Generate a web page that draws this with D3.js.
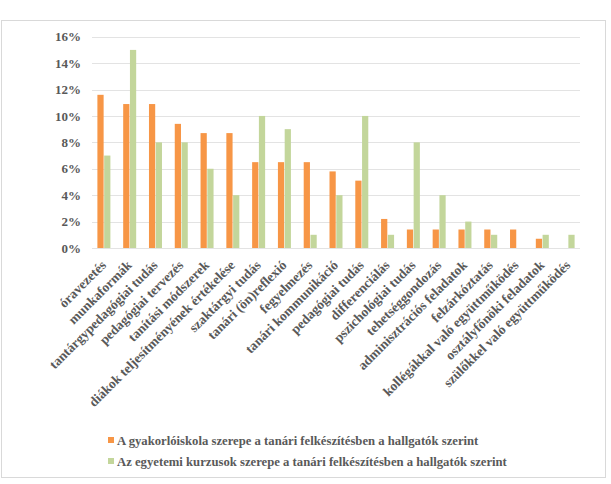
<!DOCTYPE html>
<html>
<head>
<meta charset="utf-8">
<script src="https://cdn.jsdelivr.net/npm/d3@7"></script>
<style>
  body { margin: 0; background: #fff; }
  svg { display: block; }
  text { font-family: "Liberation Serif", "Times New Roman", serif; font-weight: bold; fill: #595959; }
</style>
</head>
<body>
<svg id="chart" width="611" height="484"></svg>
<script>
const categories = [
  "óravezetés", "munkaformák", "tantárgypedagógiai tudás", "pedagógiai tervezés",
  "tanítási módszerek", "diákok teljesítményének értékelése", "szaktárgyi tudás",
  "tanári (ön)reflexió", "fegyelmezés", "tanári kommunikáció", "pedagógiai tudás",
  "differenciálás", "pszichológiai tudás", "tehetséggondozás", "adminisztrációs feladatok",
  "felzárkóztatás", "kollégákkal való együttműködés", "osztályfőnöki feladatok",
  "szülőkkel való együttműködés"
];
const seriesNames = [
  "A gyakorlóiskola szerepe a tanári felkészítésben a hallgatók szerint",
  "Az egyetemi kurzusok szerepe a tanári felkészítésben a hallgatók szerint"
];
// values in percent
const gyakorloValues = [11.6, 10.9, 10.9, 9.4, 8.7, 8.7, 6.5, 6.5, 6.5, 5.8, 5.1, 2.2, 1.4, 1.4, 1.4, 1.4, 1.4, 0.7, 0];
const egyetemiValues = [7, 15, 8, 8, 6, 4, 10, 9, 1, 4, 10, 1, 8, 4, 2, 1, 0, 1, 1];
const yTicks = [0, 2, 4, 6, 8, 10, 12, 14, 16];
const colors = ["#F79646", "#C3D69B"];

const svg = d3.select("#chart");

// outer chart border
svg.append("rect")
  .attr("x", 1.5).attr("y", 20.5).attr("width", 604).attr("height", 457)
  .attr("fill", "none").attr("stroke", "#d9d9d9").attr("stroke-width", 1);

const y = d3.scaleLinear().domain([0, 16]).range([248, 36.7]);
const x0 = d3.scaleBand().domain(categories).range([91, 581]).padding(0);
const groupW = 13;
const x1 = d3.scaleBand().domain([0, 1]).range([0, groupW]).paddingInner(0.08);

// gridlines
svg.append("g").selectAll("line").data(yTicks).join("line")
  .attr("x1", 92).attr("x2", 580)
  .attr("y1", d => Math.round(y(d)) + 0.5).attr("y2", d => Math.round(y(d)) + 0.5)
  .attr("stroke", "#e3e3e3").attr("stroke-width", 1);

// y axis labels
const yAxis = d3.axisLeft(y).tickValues(yTicks).tickFormat(d => d + "%").tickSize(0).tickPadding(0);
const yg = svg.append("g").attr("transform", "translate(81,0)").call(yAxis);
yg.select(".domain").remove();
yg.selectAll("text").attr("font-size", 13).attr("fill", "#595959")
  .style("font-family", '"Liberation Serif", serif').style("font-weight", "bold");

// bars
const data = categories.map((c, i) => ({ cat: c, vals: [gyakorloValues[i], egyetemiValues[i]] }));
const groups = svg.append("g").selectAll("g").data(data).join("g")
  .attr("transform", d => `translate(${x0(d.cat) + (x0.bandwidth() - groupW) / 2},0)`);
groups.selectAll("rect").data(d => d.vals.map((v, k) => ({ v, k }))).join("rect")
  .attr("x", d => x1(d.k))
  .attr("width", x1.bandwidth())
  .attr("y", d => y(d.v))
  .attr("height", d => y(0) - y(d.v))
  .attr("fill", d => colors[d.k]);

// x axis labels
const xAxis = d3.axisBottom(x0).tickSize(0).tickPadding(0);
const xg = svg.append("g").attr("transform", "translate(0,248)").call(xAxis);
xg.select(".domain").remove();
xg.selectAll("text")
  .attr("font-size", 13.5).attr("fill", "#595959")
  .style("font-family", '"Liberation Serif", serif').style("font-weight", "bold")
  .attr("text-anchor", "end")
  .attr("dy", null)
  .attr("transform", "translate(3,18) rotate(-45)");

// legend
const legend = svg.append("g").selectAll("g").data(seriesNames).join("g")
  .attr("transform", (d, i) => `translate(108,${441 + i * 21})`);
legend.append("rect").attr("x", 0).attr("y", -4).attr("width", 6).attr("height", 6)
  .attr("fill", (d, i) => colors[i]);
legend.append("text").attr("x", 9).attr("y", 0).attr("dy", "0.35em")
  .attr("font-size", 12.7).text(d => d);
</script>
</body>
</html>
